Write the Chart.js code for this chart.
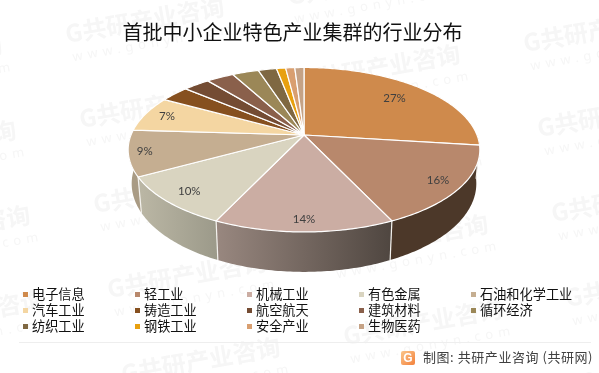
<!DOCTYPE html>
<html>
<head>
<meta charset="utf-8">
<script src="https://cdn.jsdelivr.net/npm/chart.js@4/dist/chart.umd.min.js"></script>
<style>
  body { margin: 0; background: #fff; font-family: "Noto Sans CJK SC", "Noto Sans", sans-serif; }
  #wrap { position: relative; width: 599px; height: 373px; overflow: hidden; }
  canvas { position: absolute; left: 0; top: 0; }
  .item { position: absolute; font-size: 13.2px; line-height: 16px; color: #111; white-space: nowrap; }
  .item i { position: absolute; left: -9px; top: 6px; width: 5px; height: 5px; }
  #rule { position: absolute; left: 19px; top: 342px; width: 572px; height: 1px; background: #eeeeee; }
  #logo { position: absolute; left: 401px; top: 351px; width: 14px; height: 14px; border-radius: 2px;
          background: linear-gradient(135deg, #fbc58a, #f3813c); color: #fff; font: bold 12px/14px "Liberation Sans"; text-align: center; }
  #source { position: absolute; left: 423px; top: 348px; font-size: 13px; line-height: 18px; color: #404040; white-space: nowrap; letter-spacing: 0.55px; }
</style>
</head>
<body>
<div id="wrap">
  <canvas id="myChart" width="599" height="373"></canvas>
  <div id="legend"></div>
  <div id="rule"></div>
  <div id="logo">G</div>
  <div id="source">制图: 共研产业咨询 (共研网)</div>
</div>
<script>
var categories = ['电子信息', '轻工业', '机械工业', '有色金属', '石油和化学工业', '汽车工业', '铸造工业',
  '航空航天', '建筑材料', '循环经济', '纺织工业', '钢铁工业', '安全产业', '生物医药'];
var shares = [27, 16, 14, 10, 9, 7, 3.2, 2.9, 3, 2.9, 2, 1, 1, 1];
var colors = ['#CF8A4C', '#B8886C', '#CBADA3', '#D9D4C0', '#C5AE91', '#F4D6A2', '#86501F',
  '#744C33', '#8A604B', '#9B8757', '#7F6842', '#E8A010', '#D99F70', '#C5A285'];
// side wall shading, left colour then right colour (only the front slices show a wall)
var wallColors = [['#4c3829', '#4c3829'], ['#4c3829', '#4c3829'], ['#98877f', '#4f4640'],
  ['#bab6a4', '#9c9a8a'], ['#a99b84', '#a99b84']];
// how far out along the slice each percent label sits
var labelReach = [0.76, 0.87, 0.89, 0.86, 0.91, 0.86];

// pie projection
var CX = 304, CY = 135, RX = 173, RY = 79.6, TILT = 0.179, DEPTH = 32.8, SHRINK = 0.98;

function project(angle, reach, low) {
  var t = angle + Math.PI / 2;
  var u = reach * Math.sin(t), v = -reach * Math.cos(t);
  var w = 1 - TILT * v;
  return {
    x: CX + RX * u / w * (low ? SHRINK : 1),
    y: CY + RY * v / w + (low ? DEPTH / w : 0)
  };
}

function rimPoints(a0, a1, low) {
  var pts = [], n = Math.max(2, Math.ceil((a1 - a0) / 0.015));
  for (var i = 0; i <= n; i++) pts.push(project(a0 + (a1 - a0) * i / n, 1, low));
  return pts;
}

var pie3d = {
  id: 'pie3d',
  beforeDraw: function (chart) {
    // faint site watermark behind everything
    var ctx = chart.ctx;
    ctx.save();
    for (var i = -2; i < 4; i++) {
      for (var j = -4; j < 6; j++) {
        var x = 67 + i * 236 + j * 14, y = 43 + i * 47 + j * 85;
        if (x < -190 || x > 599 || y < -10 || y > 400) continue;
        ctx.save();
        ctx.translate(x, y);
        ctx.rotate(-10 * Math.PI / 180);
        ctx.textBaseline = 'alphabetic';
        ctx.fillStyle = '#f6f6f6';
        ctx.font = 'bold 24px "Noto Sans CJK SC"';
        ctx.fillText('G共研产业咨询', 0, 0);
        ctx.fillStyle = '#f6f6f6';
        ctx.font = '13px "Noto Sans"';
        ctx.letterSpacing = '5px';
        ctx.fillText('www.gonyn.com', 3, 19);
        ctx.letterSpacing = '0px';
        ctx.restore();
      }
    }
    ctx.restore();
  },
  beforeDatasetsDraw: function (chart) {
    var ctx = chart.ctx, arcs = chart.getDatasetMeta(0).data;
    ctx.save();
    ctx.lineJoin = 'round';

    // side walls, only the half that faces the viewer
    arcs.forEach(function (arc, i) {
      var a0 = Math.max(arc.startAngle, 0), a1 = Math.min(arc.endAngle, Math.PI);
      if (a1 <= a0) return;
      var top = rimPoints(a0, a1, false), low = rimPoints(a0, a1, true).reverse();
      var g = ctx.createLinearGradient(Math.min(top[0].x, low[0].x), 0, Math.max(top[0].x, low[0].x), 0);
      var shade = wallColors[i];
      g.addColorStop(0, shade[0]);
      g.addColorStop(1, shade[1]);
      ctx.fillStyle = g;
      ctx.beginPath();
      top.concat(low).forEach(function (p, k) { k ? ctx.lineTo(p.x, p.y) : ctx.moveTo(p.x, p.y); });
      ctx.closePath();
      ctx.fill();
    });

    // seams between the walls
    ctx.strokeStyle = '#f4f2ee';
    ctx.lineWidth = 1.2;
    arcs.forEach(function (arc) {
      if (arc.endAngle <= 0.05 || arc.endAngle >= Math.PI - 0.05) return;
      var p = project(arc.endAngle, 1, false), q = project(arc.endAngle, 1, true);
      ctx.beginPath();
      ctx.moveTo(p.x, p.y);
      ctx.lineTo(q.x, q.y);
      ctx.stroke();
    });

    // top surface
    ctx.strokeStyle = '#ffffff';
    arcs.forEach(function (arc, i) {
      var c = project(0, 0, false);
      ctx.beginPath();
      ctx.moveTo(c.x, c.y);
      rimPoints(arc.startAngle, arc.endAngle, false).forEach(function (p) { ctx.lineTo(p.x, p.y); });
      ctx.closePath();
      ctx.fillStyle = colors[i];
      ctx.fill();
      ctx.stroke();
    });

    // percent labels
    var total = shares.reduce(function (s, v) { return s + v; }, 0);
    ctx.fillStyle = '#404040';
    ctx.font = '11.5px Lato';
    ctx.textAlign = 'center';
    ctx.textBaseline = 'middle';
    labelReach.forEach(function (reach, i) {
      var arc = arcs[i], p = project((arc.startAngle + arc.endAngle) / 2, reach, false);
      ctx.fillText(Math.round(shares[i] / total * 100) + '%', p.x, p.y);
    });
    ctx.restore();
    return false;
  }
};

var ctx = document.getElementById('myChart').getContext('2d');
var myChart = new Chart(ctx, {
  type: 'pie',
  data: {
    labels: categories,
    datasets: [{ data: shares, backgroundColor: colors }]
  },
  options: {
    responsive: false,
    animation: false,
    layout: { padding: { right: 14 } },
    plugins: {
      legend: { display: false },
      tooltip: { enabled: false },
      title: {
        display: true,
        text: '首批中小企业特色产业集群的行业分布',
        color: '#111111',
        font: { family: '"Noto Sans CJK SC"', size: 20, weight: 'normal', lineHeight: 1.2 },
        padding: { top: 20, bottom: 10 }
      }
    }
  },
  plugins: [pie3d]
});

// five column legend below the pie
var legendBox = document.getElementById('legend');
categories.forEach(function (name, i) {
  var col = i % 5, row = Math.floor(i / 5);
  var el = document.createElement('div');
  el.className = 'item';
  el.style.left = (32 + col * 112) + 'px';
  el.style.top = (286 + row * 16) + 'px';
  el.innerHTML = '<i style="background:' + colors[i] + '"></i>' + name;
  legendBox.appendChild(el);
});
</script>
</body>
</html>
